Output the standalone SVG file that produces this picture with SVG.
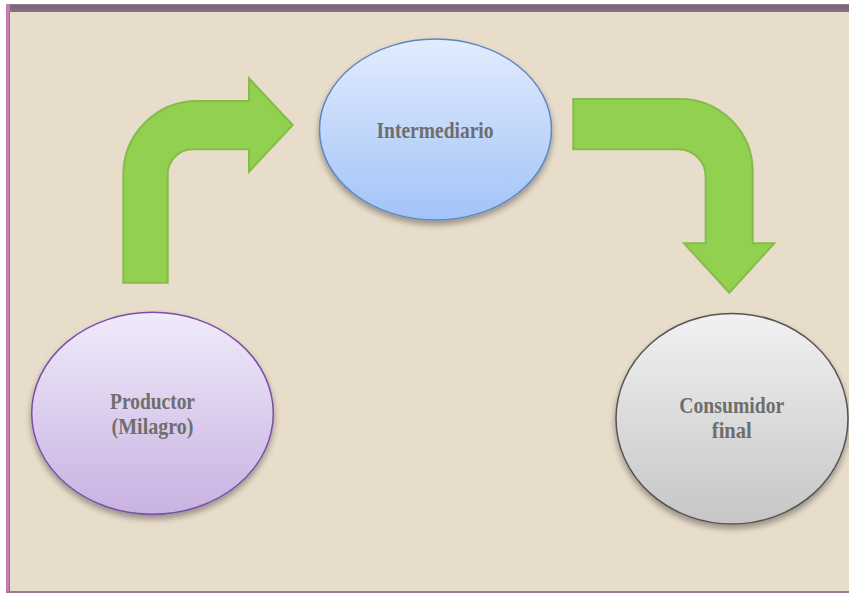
<svg xmlns="http://www.w3.org/2000/svg" width="849" height="594" viewBox="0 0 849 594">
<defs>
<linearGradient id="gBlue" x1="0" y1="0" x2="0" y2="1"><stop offset="0" stop-color="#e2ecfe"/><stop offset="1" stop-color="#a2c3f8"/></linearGradient>
<linearGradient id="gPurple" x1="0" y1="0" x2="0" y2="1"><stop offset="0" stop-color="#f0eafa"/><stop offset="1" stop-color="#c8b2e2"/></linearGradient>
<linearGradient id="gGray" x1="0" y1="0" x2="0" y2="1"><stop offset="0" stop-color="#f1f1f1"/><stop offset="1" stop-color="#c6c6c6"/></linearGradient>
<linearGradient id="gTop" x1="0" y1="0" x2="0" y2="1"><stop offset="0" stop-color="#9a8a96"/><stop offset="0.2" stop-color="#7c6476"/><stop offset="1" stop-color="#8c6e84"/></linearGradient>
<filter id="sh" x="-20%" y="-20%" width="140%" height="150%"><feGaussianBlur in="SourceAlpha" stdDeviation="3"/><feOffset dx="0" dy="4"/><feComponentTransfer><feFuncA type="linear" slope="0.35"/></feComponentTransfer><feMerge><feMergeNode/><feMergeNode in="SourceGraphic"/></feMerge></filter>
<style>
text{font-family:'Liberation Serif','DejaVu Serif',serif}
.lbl{font-weight:700;font-size:23px;fill:#6e6e6e;text-anchor:middle}
.arrow{fill:#92d050;stroke:#86bb4c;stroke-width:2;stroke-linejoin:miter}
</style>
</defs>
<rect x="0" y="0" width="849" height="594" fill="#ffffff"/>
<rect x="6" y="4" width="843" height="589" fill="#e8dcca"/>
<rect x="6" y="4" width="843" height="8" fill="url(#gTop)"/>
<rect x="6" y="4" width="4" height="589" fill="#c47fb0"/>
<rect x="9" y="12" width="1" height="580" fill="#a06890"/>
<rect x="6" y="591" width="843" height="2" fill="#9c7a94"/>
<g id="connectors">
<path id="arrow1" class="arrow" d="M123.3,282.7 V175 A74,74 0 0 1 197,101 H249 V78.3 L292.7,125 L249,171.7 V149.3 H193 A25,25 0 0 0 167.7,175 V282.7 Z"/>
<path id="arrow2" class="arrow" d="M573.3,99 H680 A72.7,72.7 0 0 1 752.7,171.7 V243.3 H774.3 L729.3,292.7 L684,243.3 H705.7 V176.7 A27.4,27.4 0 0 0 678.3,149.3 H573.3 Z"/>
</g>
<g id="intermediario">
<ellipse cx="435.5" cy="129.5" rx="116" ry="90.5" fill="url(#gBlue)" stroke="#5b88c0" stroke-width="1.5" filter="url(#sh)"/>
<text class="lbl" x="435" y="138" textLength="117" lengthAdjust="spacingAndGlyphs">Intermediario</text>
</g>
<g id="productor">
<ellipse cx="152.5" cy="413.3" rx="120.8" ry="101" fill="url(#gPurple)" stroke="#7a4fa8" stroke-width="1.5" filter="url(#sh)"/>
<text class="lbl" x="152.5" y="409" textLength="85" lengthAdjust="spacingAndGlyphs">Productor</text>
<text class="lbl" x="152.5" y="434" textLength="82" lengthAdjust="spacingAndGlyphs">(Milagro)</text>
</g>
<g id="consumidor">
<ellipse cx="732" cy="418.7" rx="116" ry="105.3" fill="url(#gGray)" stroke="#555555" stroke-width="1.5" filter="url(#sh)"/>
<text class="lbl" x="731.8" y="413.3" textLength="105" lengthAdjust="spacingAndGlyphs">Consumidor</text>
<text class="lbl" x="731.8" y="438.3" textLength="40" lengthAdjust="spacingAndGlyphs">final</text>
</g>
</svg>
